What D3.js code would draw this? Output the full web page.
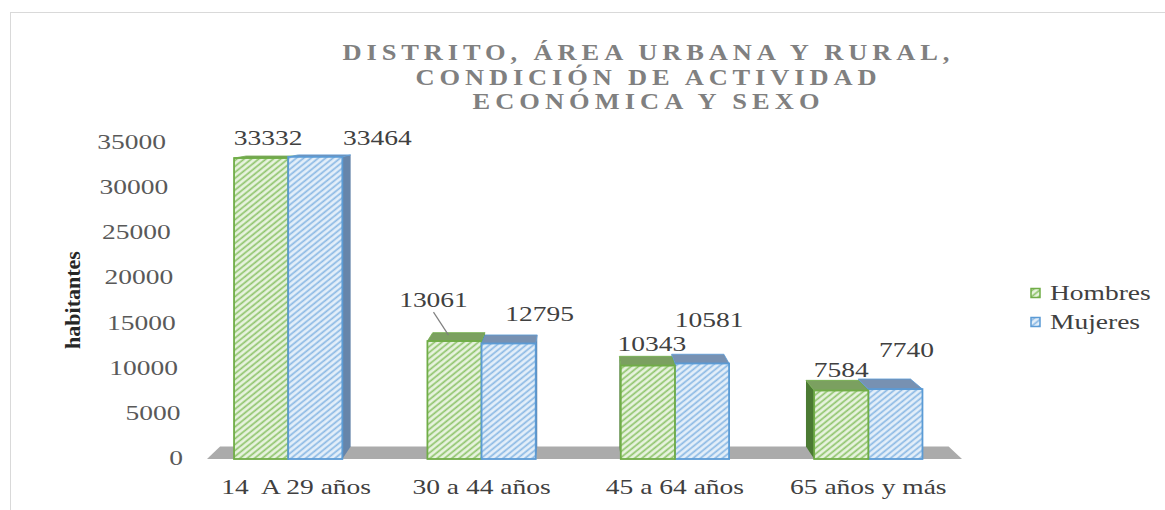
<!DOCTYPE html>
<html>
<head>
<meta charset="utf-8">
<script src="https://cdn.jsdelivr.net/npm/d3@7"></script>
<style>
  html, body { margin: 0; padding: 0; background: #ffffff; }
  svg text { font-family: "Liberation Serif", "Times New Roman", "DejaVu Serif", serif; }
</style>
</head>
<body>
<script>
// ---- data ----
const categories = ["14  A 29 años", "30 a 44 años", "45 a 64 años", "65 años y más"];
const seriesNames = ["Hombres", "Mujeres"];
const hombres = [33332, 13061, 10343, 7584];
const mujeres = [33464, 12795, 10581, 7740];
const yTicks = [0, 5000, 10000, 15000, 20000, 25000, 30000, 35000];
const titleLines = ["DISTRITO, ÁREA URBANA Y RURAL,", "CONDICIÓN DE ACTIVIDAD", "ECONÓMICA Y SEXO"];
const yTitle = "habitantes";

// ---- layout ----
const W = 1165, H = 510;
const VX = 580, VY = 100, DEPTH = 0.035;   // perspective: vanishing point and depth factor
const SX = 1.25;                           // horizontal stretch applied to text
const FONT = "'Liberation Serif', 'Times New Roman', serif";
// data-label nudges (px) from the top-front centre of each bar
const labelNudge = {
  Hombres: [[7, -20], [-21, -41], [4, -22], [0, -21]],
  Mujeres: [[62, -19], [31, -29], [7, -43], [11, -39]]
};
const leaderLines = { Hombres: [false, true, false, false], Mujeres: [false, false, false, false] };

const style = {
  Hombres: { bg: "#e8f3df", line: "#8fc46c", stroke: "#70ad47", top: "#7ba060", side: "#4b7a33" },
  Mujeres: { bg: "#e4eff9", line: "#8bb9e4", stroke: "#5b9bd5", top: "#7791b2", side: "#6685aa" }
};

const svg = d3.select("body").append("svg").attr("width", W).attr("height", H)
  .attr("font-family", FONT);

// chart frame
svg.append("rect").attr("x", 10.5).attr("y", 12.5).attr("width", W).attr("height", H)
  .attr("fill", "none").attr("stroke", "#d9d9d9");

// hatch patterns
const defs = svg.append("defs");
seriesNames.forEach(s => {
  const p = defs.append("pattern").attr("id", "hatch-" + s)
    .attr("patternUnits", "userSpaceOnUse").attr("width", 4.6).attr("height", 4.6)
    .attr("patternTransform", "rotate(51)");
  p.append("rect").attr("width", 4.6).attr("height", 4.6).attr("fill", style[s].bg);
  p.append("line").attr("x1", 1.2).attr("y1", 0).attr("x2", 1.2).attr("y2", 4.6)
    .attr("stroke", style[s].line).attr("stroke-width", 1.7);
});

// scales
const x = d3.scaleBand().domain(categories).range([191.5, 965]).paddingInner(0.44).paddingOuter(0.22);
const xs = d3.scaleBand().domain(seriesNames).range([0, x.bandwidth()]);
const y = d3.scaleLinear().domain([0, 35000]).range([459, 143]);

const proj = p => [p[0] + DEPTH * (VX - p[0]), p[1] + DEPTH * (VY - p[1])];
const pts = arr => arr.map(p => p.join(",")).join(" ");

function stretched(g, px, py, txt, anchor, sx) {
  return g.append("g").attr("transform", `translate(${px},${py}) scale(${sx || SX},1)`)
    .append("text").attr("font-family", FONT).attr("text-anchor", anchor || "middle")
    .style("white-space", "pre").text(txt);
}

// title: wide-tracked capitals
const tg = svg.append("g").attr("fill", "#808080").attr("font-weight", "bold").attr("font-size", 23);
const titleWidths = [607, 461, 347], titleY = [60, 85, 109];
titleLines.forEach((t, i) => {
  stretched(tg, 646, titleY[i], t, "middle", 1.15)
    .attr("textLength", titleWidths[i] / 1.15).attr("lengthAdjust", "spacing");
});

// y-axis title
svg.append("text").attr("font-family", FONT).attr("transform", "translate(80,300) rotate(-90)")
  .attr("text-anchor", "middle").attr("font-weight", "bold").attr("font-size", 22)
  .attr("fill", "#262626").text(yTitle);

// floor
const fl = [[207, y(0)], [962, y(0)]];
svg.append("polygon")
  .attr("points", pts([fl[0], fl[1], proj(fl[1]), proj(fl[0])]))
  .attr("fill", "#ababab");

// y tick labels along the slanted back edge
const tickG = svg.append("g").attr("font-size", 22).attr("fill", "#595959");
yTicks.forEach(t => {
  const ty = y(t) - 1;
  const tx = 183 - (459 - ty) * 0.054;
  stretched(tickG, tx, ty + 7, d3.format("d")(t), "end");
});

// bars
const bars = [];
categories.forEach((c, i) => {
  seriesNames.forEach(s => {
    const v = s === "Hombres" ? hombres[i] : mujeres[i];
    const x0 = x(c) + xs(s), x1 = x0 + xs.bandwidth();
    bars.push({ c, i, s, v, x0, x1, y0: y(v), y1: y(0) });
  });
});
bars.sort((a, b) => {
  const da = Math.max(Math.abs(a.x0 - VX), Math.abs(a.x1 - VX));
  const db = Math.max(Math.abs(b.x0 - VX), Math.abs(b.x1 - VX));
  return db - da;
});
const barG = svg.append("g");
bars.forEach(b => {
  const st = style[b.s];
  const g = barG.append("g");
  if (b.x1 < VX) {
    g.append("polygon").attr("points", pts([[b.x1, b.y0], [b.x1, b.y1], proj([b.x1, b.y1]), proj([b.x1, b.y0])]))
      .attr("fill", st.side);
  } else if (b.x0 > VX) {
    g.append("polygon").attr("points", pts([[b.x0, b.y0], [b.x0, b.y1], proj([b.x0, b.y1]), proj([b.x0, b.y0])]))
      .attr("fill", st.side);
  }
  g.append("polygon").attr("points", pts([[b.x0, b.y0], [b.x1, b.y0], proj([b.x1, b.y0]), proj([b.x0, b.y0])]))
    .attr("fill", st.top).attr("stroke", st.stroke).attr("stroke-width", 0.8);
  g.append("rect").attr("x", b.x0).attr("y", b.y0).attr("width", b.x1 - b.x0).attr("height", b.y1 - b.y0)
    .attr("fill", `url(#hatch-${b.s})`).attr("stroke", st.stroke).attr("stroke-width", 1.8);
});

// data labels
const labG = svg.append("g").attr("font-size", 22).attr("fill", "#404040");
bars.forEach(b => {
  const cx = (b.x0 + b.x1) / 2;
  const [dx, dy] = labelNudge[b.s][b.i];
  const lx = cx + dx, ly = b.y0 + dy;
  if (leaderLines[b.s][b.i]) {
    labG.append("line").attr("x1", lx).attr("y1", ly + 12).attr("x2", cx - 6).attr("y2", b.y0 - 6)
      .attr("stroke", "#7f7f7f").attr("stroke-width", 1.2);
  }
  stretched(labG, lx, ly + 7, d3.format("d")(b.v));
});

// x category labels
const xg = svg.append("g").attr("font-size", 22).attr("fill", "#404040");
categories.forEach(c => stretched(xg, x(c) + x.bandwidth() / 2 + (c === categories[0] ? 8 : 0), 494, c));

// legend
const lg = svg.append("g").attr("font-size", 22).attr("fill", "#404040");
seriesNames.forEach((s, k) => {
  const cy = 293 + k * 29;
  lg.append("rect").attr("x", 1031).attr("y", cy - 4.5).attr("width", 9).attr("height", 9)
    .attr("fill", `url(#hatch-${s})`).attr("stroke", style[s].stroke).attr("stroke-width", 1.5);
  stretched(lg, 1050, cy + 7, s, "start");
});
</script>
</body>
</html>
